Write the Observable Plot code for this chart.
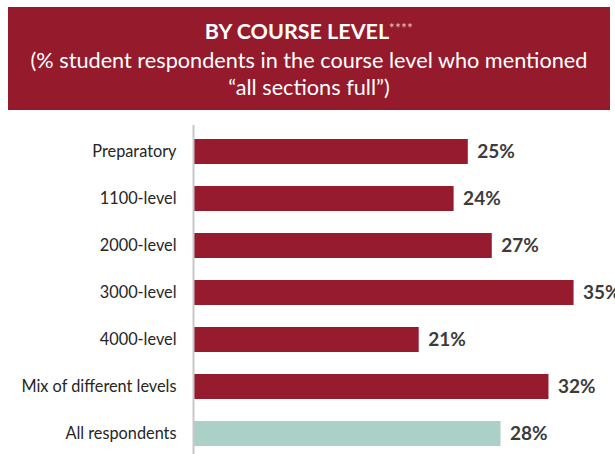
<!DOCTYPE html>
<html><head><meta charset="utf-8">
<script src="https://cdn.jsdelivr.net/npm/d3@7"></script>
<script src="https://cdn.jsdelivr.net/npm/@observablehq/plot@0.6"></script>
<style>
html,body{margin:0;padding:0;background:#fff;width:615px;height:454px;overflow:hidden;font-family:Lato,"Open Sans",sans-serif;}
#header{position:absolute;left:8px;top:7px;width:602px;height:103px;background:#951b2c;color:#fff;text-align:center;}
#title{position:absolute;left:0;right:0;top:11px;font-weight:bold;font-size:21.5px;line-height:26px;}
#title sup{font-size:13px;font-weight:normal;vertical-align:top;position:relative;top:-3px;letter-spacing:0.5px;color:#e8c8cc;}
#sub{position:absolute;left:0;right:0;top:40px;font-size:21.7px;line-height:27px;}
#chart{position:absolute;left:0;top:110px;}
</style></head>
<body>
<div id="header"><div id="title">BY COURSE LEVEL<sup>****</sup></div>
<div id="sub">(% student respondents in the course level who mentioned<br>“all sections full”)</div></div>
<div id="chart"></div>
<script>
const categories = ["Preparatory","1100-level","2000-level","3000-level","4000-level","Mix of different levels","All respondents"];
const values = [25.2,23.9,27.4,34.9,20.7,32.6,28.2];
const labels = ["25%","24%","27%","35%","21%","32%","28%"];
const groups = ["level","level","level","level","level","level","all"];

const data = categories.map((c,i)=>({category:c, value:values[i], label:labels[i], group:groups[i]}));

const chart = Plot.plot({
  width: 615,
  height: 344,
  marginLeft: 193,
  marginRight: 0,
  marginTop: 15,
  marginBottom: 0,
  style: {fontFamily: "Lato, 'Open Sans', sans-serif", background: "transparent", overflow: "visible"},
  x: {domain: [0, 38.7], axis: null},
  y: {domain: categories, range: [15.7, 348.9], paddingInner: 0.475, paddingOuter: 0.2375, label: null},
  color: {domain: ["level","all"], range: ["#971b2f","#aad0c8"]},
  marks: [
    Plot.barX(data, {y: "category", x: "value", fill: "group"}),
    Plot.ruleX([0], {stroke: "#c8c8c8", strokeWidth: 2}),
    Plot.text(data, {y: "category", x: "value", text: "label", textAnchor: "start", dx: 9, fill: "#3c3c3c", fontWeight: "bold", fontSize: 19}),
    Plot.axisY({tickSize: 0, tickPadding: 17, fontSize: 16.3, color: "#262626", label: null})
  ]
});
document.getElementById("chart").appendChild(chart);
</script>
</body></html>
